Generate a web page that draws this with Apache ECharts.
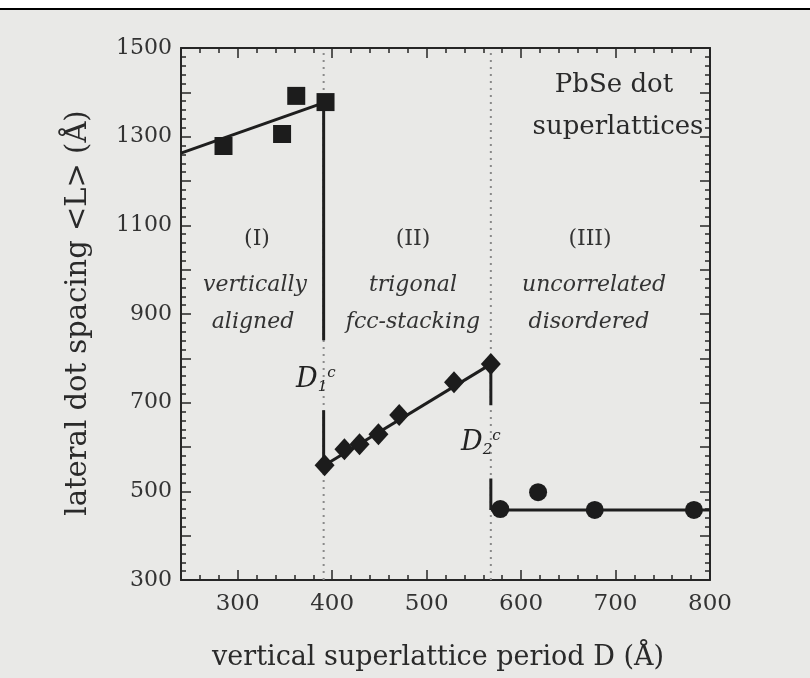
<!DOCTYPE html>
<html><head><meta charset="utf-8">
<script src="https://cdn.jsdelivr.net/npm/echarts@6/dist/echarts.min.js"></script>
<style>html,body{margin:0;padding:0;background:#e9e9e7}#c{width:810px;height:678px}</style>
</head><body><div id="c"></div>
<script>
// ---- data ----
const xTickLabels = [300, 400, 500, 600, 700, 800];
const yTickLabels = [300, 500, 700, 900, 1100, 1300, 1500];
const xMajorTicks = [300, 400, 500, 600, 700, 800];
const yMajorTicks = [300, 400, 500, 600, 700, 800, 900, 1000, 1100, 1200, 1300, 1400, 1500];

const regionI_D = [285, 347, 362, 393];
const regionI_L = [1279, 1306, 1392, 1378];
const regionII_D = [392, 413, 429, 449, 471, 529, 568];
const regionII_L = [559, 595, 606, 629, 672, 746, 787];
const regionIII_D = [578, 618, 678, 783];
const regionIII_L = [460, 498, 458, 458];

const fitI_D = [240, 393];  const fitI_L = [1263, 1378];
const fitII_D = [392, 568]; const fitII_L = [559, 787];
const fitIII_D = [568, 800]; const fitIII_L = [458, 458];

const D1c = 391, D2c = 568;
const bndI_upper_L = [1378, 841];
const bndI_lower_L = [683, 559];
const bndII_upper_L = [787, 694];
const bndII_lower_L = [529, 458];
const dottedSpan_L = [300, 1500];

const pairs = (xs, ys) => xs.map((x, i) => [x, ys[i]]);
const vert = (x, ys) => ys.map(y => [x, y]);

const FONT = 'DejaVu Serif';
const INK = '#262626';

const chart = echarts.init(document.getElementById('c'), null, {renderer: 'canvas'});

const xCommon = {type: 'value', min: 240, max: 800, gridIndex: 0, splitLine: {show: false}};
const yCommon = {type: 'value', min: 300, max: 1500, gridIndex: 0, splitLine: {show: false}};
const plain = v => String(v);

function lineSeries(data, opts) {
  return Object.assign({
    type: 'line', data: data, symbol: 'none', silent: true,
    lineStyle: {color: '#1e1e1e', width: 3}, z: 3, animation: false
  }, opts || {});
}

const option = {
  backgroundColor: '#e9e9e7',
  animation: false,
  grid: {left: 181, right: 100, top: 48, bottom: 98},
  xAxis: [
    Object.assign({}, xCommon, {
      position: 'bottom', interval: 20,
      axisLine: {lineStyle: {color: INK, width: 2}},
      axisTick: {inside: true, length: 5, lineStyle: {color: INK, width: 1.5}},
      axisLabel: {customValues: xTickLabels, formatter: plain, fontFamily: FONT, fontSize: 23, color: '#333', margin: 13}
    }),
    Object.assign({}, xCommon, {
      position: 'bottom',
      axisLine: {show: false},
      axisTick: {inside: true, length: 10, customValues: xMajorTicks, lineStyle: {color: INK, width: 1.5}},
      axisLabel: {show: false}
    }),
    Object.assign({}, xCommon, {
      position: 'top', interval: 20,
      axisLine: {lineStyle: {color: INK, width: 2}},
      axisTick: {inside: true, length: 5, lineStyle: {color: INK, width: 1.5}},
      axisLabel: {show: false}
    }),
    Object.assign({}, xCommon, {
      position: 'top',
      axisLine: {show: false},
      axisTick: {inside: true, length: 10, customValues: xMajorTicks, lineStyle: {color: INK, width: 1.5}},
      axisLabel: {show: false}
    })
  ],
  yAxis: [
    Object.assign({}, yCommon, {
      position: 'left', interval: 20,
      axisLine: {show: true, lineStyle: {color: INK, width: 2}},
      axisTick: {show: true, inside: true, length: 5, lineStyle: {color: INK, width: 1.5}},
      axisLabel: {customValues: yTickLabels, formatter: plain, fontFamily: FONT, fontSize: 22, color: '#333', margin: 9}
    }),
    Object.assign({}, yCommon, {
      position: 'left',
      axisLine: {show: false},
      axisTick: {show: true, inside: true, length: 10, customValues: yMajorTicks, lineStyle: {color: INK, width: 1.5}},
      axisLabel: {show: false}
    }),
    Object.assign({}, yCommon, {
      position: 'right', interval: 20,
      axisLine: {show: true, lineStyle: {color: INK, width: 2}},
      axisTick: {show: true, inside: true, length: 5, lineStyle: {color: INK, width: 1.5}},
      axisLabel: {show: false}
    }),
    Object.assign({}, yCommon, {
      position: 'right',
      axisLine: {show: false},
      axisTick: {show: true, inside: true, length: 10, customValues: yMajorTicks, lineStyle: {color: INK, width: 1.5}},
      axisLabel: {show: false}
    })
  ],
  series: [
    lineSeries(vert(D1c, dottedSpan_L), {lineStyle: {color: '#8a8a8a', width: 2, type: [2, 5]}, z: 1}),
    lineSeries(vert(D2c, dottedSpan_L), {lineStyle: {color: '#8a8a8a', width: 2, type: [2, 5]}, z: 1}),
    lineSeries(pairs(fitI_D, fitI_L)),
    lineSeries(pairs(fitII_D, fitII_L)),
    lineSeries(pairs(fitIII_D, fitIII_L)),
    lineSeries(vert(D1c, bndI_upper_L)),
    lineSeries(vert(D1c, bndI_lower_L)),
    lineSeries(vert(D2c, bndII_upper_L)),
    lineSeries(vert(D2c, bndII_lower_L)),
    {type: 'scatter', data: pairs(regionI_D, regionI_L), symbol: 'rect', symbolSize: 18,
     itemStyle: {color: '#1c1c1c', opacity: 1}, z: 5, silent: true},
    {type: 'scatter', data: pairs(regionII_D, regionII_L), symbol: 'diamond', symbolSize: [20, 22],
     itemStyle: {color: '#1c1c1c', opacity: 1}, z: 5, silent: true},
    {type: 'scatter', data: pairs(regionIII_D, regionIII_L), symbol: 'circle', symbolSize: 18,
     itemStyle: {color: '#1c1c1c', opacity: 1}, z: 5, silent: true}
  ],
  graphic: [
    {type: 'rect', left: 0, top: 0, shape: {width: 810, height: 8}, style: {fill: '#ffffff'}, z: 10},
    {type: 'rect', left: 0, top: 8, shape: {width: 810, height: 2}, style: {fill: '#000000'}, z: 10},
    {type: 'text', x: 78, y: 313, rotation: Math.PI / 2, z: 10,
     style: {text: 'lateral dot spacing <L> (Å)', font: '29px "DejaVu Serif"', fill: '#2a2a2a', align: 'center', verticalAlign: 'middle'}},
    {type: 'text', x: 438, y: 658, z: 10,
     style: {text: 'vertical superlattice period D (Å)', font: '27px "DejaVu Serif"', fill: '#2a2a2a', align: 'center', verticalAlign: 'middle'}},
    {type: 'text', x: 614, y: 85, z: 10,
     style: {text: 'PbSe dot', font: '26px "DejaVu Serif"', fill: '#2a2a2a', align: 'center', verticalAlign: 'middle'}},
    {type: 'text', x: 618, y: 127, z: 10,
     style: {text: 'superlattices', font: '26px "DejaVu Serif"', fill: '#2a2a2a', align: 'center', verticalAlign: 'middle'}},
    {type: 'text', x: 257, y: 239, z: 10,
     style: {text: '(I)', font: '22px "DejaVu Serif"', fill: '#333', align: 'center', verticalAlign: 'middle'}},
    {type: 'text', x: 413, y: 239, z: 10,
     style: {text: '(II)', font: '22px "DejaVu Serif"', fill: '#333', align: 'center', verticalAlign: 'middle'}},
    {type: 'text', x: 590, y: 239, z: 10,
     style: {text: '(III)', font: '22px "DejaVu Serif"', fill: '#333', align: 'center', verticalAlign: 'middle'}},
    {type: 'text', x: 255, y: 285, z: 10,
     style: {text: 'vertically', font: 'italic 22px "DejaVu Serif"', fill: '#333', align: 'center', verticalAlign: 'middle'}},
    {type: 'text', x: 253, y: 322, z: 10,
     style: {text: 'aligned', font: 'italic 22px "DejaVu Serif"', fill: '#333', align: 'center', verticalAlign: 'middle'}},
    {type: 'text', x: 413, y: 285, z: 10,
     style: {text: 'trigonal', font: 'italic 22px "DejaVu Serif"', fill: '#333', align: 'center', verticalAlign: 'middle'}},
    {type: 'text', x: 413, y: 322, z: 10,
     style: {text: 'fcc-stacking', font: 'italic 22px "DejaVu Serif"', fill: '#333', align: 'center', verticalAlign: 'middle'}},
    {type: 'text', x: 594, y: 285, z: 10,
     style: {text: 'uncorrelated', font: 'italic 22px "DejaVu Serif"', fill: '#333', align: 'center', verticalAlign: 'middle'}},
    {type: 'text', x: 589, y: 322, z: 10,
     style: {text: 'disordered', font: 'italic 22px "DejaVu Serif"', fill: '#333', align: 'center', verticalAlign: 'middle'}},
    {type: 'text', x: 296, y: 380, z: 10,
     style: {text: '{d|D}{s|1}{p|c}', fill: '#222', verticalAlign: 'middle',
       rich: {d: {font: 'italic 27px "DejaVu Serif"', fill: '#222'},
              s: {font: 'italic 15px "DejaVu Serif"', fill: '#222', verticalAlign: 'bottom', padding: [10, 0, 0, 0]},
              p: {font: 'italic 15px "DejaVu Serif"', fill: '#222', verticalAlign: 'top', padding: [0, 0, 14, 0]}}}},
    {type: 'text', x: 461, y: 443, z: 10,
     style: {text: '{d|D}{s|2}{p|c}', fill: '#222', verticalAlign: 'middle',
       rich: {d: {font: 'italic 27px "DejaVu Serif"', fill: '#222'},
              s: {font: 'italic 15px "DejaVu Serif"', fill: '#222', verticalAlign: 'bottom', padding: [10, 0, 0, 0]},
              p: {font: 'italic 15px "DejaVu Serif"', fill: '#222', verticalAlign: 'top', padding: [0, 0, 14, 0]}}}}
  ]
};
chart.setOption(option);
</script>
</body></html>
